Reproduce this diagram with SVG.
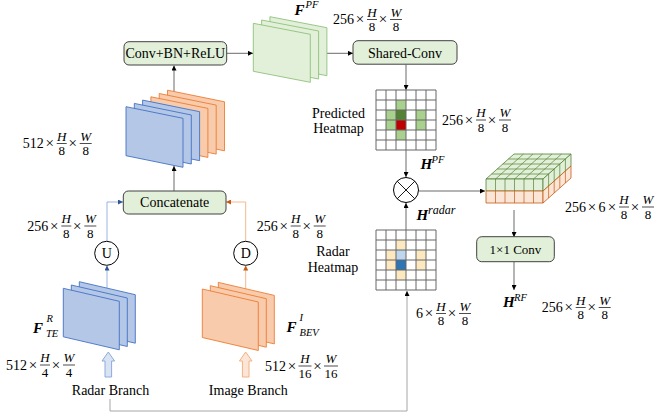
<svg xmlns="http://www.w3.org/2000/svg" width="657" height="420" viewBox="0 0 657 420">
<defs>
<style>
text{font-family:"Liberation Serif","Times New Roman","DejaVu Serif",serif}
.t{font-size:14px;fill:#000}
.tc{font-size:14px;fill:#000;text-anchor:middle}
.x{font-size:15px;fill:#000;text-anchor:middle}
.m{font-size:13px;font-style:italic;text-anchor:middle}
.d{font-size:13px;text-anchor:middle}
.bar{stroke:#000;stroke-width:0.7}
.bi{font-size:15px;font-weight:bold;font-style:italic}
.sc{font-size:10.5px;font-style:italic}
.box{fill:#e2f0d9;stroke:#404040;stroke-width:1}
.conn{fill:none;stroke:#595959;stroke-width:0.9}
.gsh{fill:#e2f0d9;stroke:#8fc27a;stroke-width:0.9}
.bsh{fill:#b4c7e7;stroke:#4472c4;stroke-width:0.9}
.osh{fill:#f8cbad;stroke:#ed7d31;stroke-width:0.9}
.grid{fill:none;stroke:#666;stroke-width:1}
.cg{fill:#e2f0d9;stroke:#548235;stroke-width:0.8}
.co{fill:#fbe5d6;stroke:#c55a11;stroke-width:0.8}
</style>
<marker id="ah" viewBox="0 0 10 10" markerWidth="5" markerHeight="5" refX="10" refY="5" orient="auto" markerUnits="userSpaceOnUse"><path d="M0,0 L10,5 L0,10 z" fill="#000"/></marker>
<marker id="ahb" viewBox="0 0 10 10" markerWidth="5" markerHeight="5" refX="10" refY="5" orient="auto" markerUnits="userSpaceOnUse"><path d="M0,0 L10,5 L0,10 z" fill="#2f5597"/></marker>
<marker id="aho" viewBox="0 0 10 10" markerWidth="5" markerHeight="5" refX="10" refY="5" orient="auto" markerUnits="userSpaceOnUse"><path d="M0,0 L10,5 L0,10 z" fill="#c55a11"/></marker>
<g id="lab256">
<text class="t" x="0" y="0">256</text><text class="x" x="27" y="0">×</text>
<text class="m" x="39" y="-7.5">H</text><line class="bar" x1="34" y1="-4.5" x2="44" y2="-4.5"/><text class="d" x="39" y="7">8</text>
<text class="x" x="50" y="0">×</text>
<text class="m" x="63" y="-7.5">W</text><line class="bar" x1="57" y1="-4.5" x2="69" y2="-4.5"/><text class="d" x="63" y="7">8</text>
</g>
</defs>

<!-- connectors -->
<g id="connectors">
<line class="conn" x1="226.7" y1="53.3" x2="253" y2="53.3" marker-end="url(#ah)"/>
<line class="conn" x1="327" y1="53.3" x2="353" y2="53.3" marker-end="url(#ah)"/>
<line class="conn" x1="406" y1="64.5" x2="406" y2="90" marker-end="url(#ah)"/>
<line class="conn" x1="406" y1="150" x2="406" y2="177" marker-end="url(#ah)"/>
<line class="conn" x1="406" y1="230" x2="406" y2="203" marker-end="url(#ah)"/>
<line class="conn" x1="419" y1="191" x2="485" y2="191" marker-end="url(#ah)"/>
<line class="conn" x1="514" y1="210" x2="514" y2="237" marker-end="url(#ah)"/>
<line class="conn" x1="514" y1="262" x2="514" y2="290" marker-end="url(#ah)"/>
<line class="conn" x1="174" y1="191" x2="174" y2="166" marker-end="url(#ah)"/>
<line class="conn" x1="174" y1="91.5" x2="174" y2="65.5" marker-end="url(#ah)"/>
<polyline fill="none" stroke="#8faadc" stroke-width="0.9" points="107,241 107,202 123,202" marker-end="url(#ahb)"/>
<line stroke="#8faadc" stroke-width="0.9" x1="107" y1="288" x2="107" y2="265.5" marker-end="url(#ahb)"/>
<polyline fill="none" stroke="#f4b183" stroke-width="0.9" points="245.7,241 245.7,202 226,202" marker-end="url(#aho)"/>
<line stroke="#f4b183" stroke-width="0.9" x1="245.7" y1="288.5" x2="245.7" y2="265.5" marker-end="url(#aho)"/>
<polyline fill="none" stroke="#a6a6a6" stroke-width="1" points="110,399 110,411 407,411 407,291" marker-end="url(#ah)"/>
</g>

<g id="conv-bn-relu">
<rect class="box" x="124" y="41.7" width="102.7" height="23.3" rx="5"/>
<text class="tc" x="175.3" y="58">Conv+BN+ReLU</text>
</g>

<g id="feat-pf">
<polygon class="gsh" points="269.9,16.7 326.9,27.7 326.9,75.7 269.9,64.7"/>
<polygon class="gsh" points="261.6,20 318.6,31 318.6,79 261.6,68"/>
<polygon class="gsh" points="253.3,23.3 310.3,34.3 310.3,82.3 253.3,71.3"/>
<text class="bi" x="294.5" y="14.5">F</text><text class="sc" x="305.5" y="8">PF</text>
</g>
<use href="#lab256" x="333" y="24"/>

<g id="shared-conv">
<rect class="box" x="353" y="40.7" width="104" height="23.5" rx="5"/>
<text class="tc" x="405" y="57.5">Shared-Conv</text>
</g>

<g id="predicted-heatmap">
<rect x="396" y="100" width="10" height="10" fill="#a9d18e"/>
<rect x="386" y="110" width="10" height="20" fill="#a9d18e"/>
<rect x="416" y="110" width="10" height="20" fill="#a9d18e"/>
<rect x="396" y="130" width="10" height="10" fill="#a9d18e"/>
<rect x="396" y="110" width="10" height="10" fill="#548235"/>
<rect x="396" y="120" width="10" height="10" fill="#c00000"/>
<path class="grid" d="M376,90H436M376,100H436M376,110H436M376,120H436M376,130H436M376,140H436M376,150H436M376,90V150M386,90V150M396,90V150M406,90V150M416,90V150M426,90V150M436,90V150"/>
<text class="tc" x="338.5" y="118">Predicted</text>
<text class="tc" x="338.5" y="133">Heatmap</text>
<text class="bi" x="420.5" y="168.5">H</text><text class="sc" x="431.5" y="162.5">PF</text>
</g>
<use href="#lab256" x="442" y="124.5"/>

<g id="multiply">
<circle cx="406" cy="190" r="12.5" fill="#fff" stroke="#000" stroke-width="1"/>
<path d="M397.2,181.2L414.8,198.8M414.8,181.2L397.2,198.8" stroke="#000" stroke-width="0.9"/>
</g>

<g id="radar-heatmap">
<rect x="396" y="240" width="10" height="10" fill="#fde9c0"/>
<rect x="386" y="250" width="10" height="20" fill="#fde9c0"/>
<rect x="416" y="250" width="10" height="20" fill="#fde9c0"/>
<rect x="396" y="270" width="10" height="10" fill="#fde9c0"/>
<rect x="396" y="250" width="10" height="10" fill="#bdd7ee"/>
<rect x="396" y="260" width="10" height="10" fill="#2e75b6"/>
<path class="grid" d="M376,230H436M376,240H436M376,250H436M376,260H436M376,270H436M376,280H436M376,290H436M376,230V290M386,230V290M396,230V290M406,230V290M416,230V290M426,230V290M436,230V290"/>
<text class="tc" x="333" y="256">Radar</text>
<text class="tc" x="333" y="272">Heatmap</text>
<text class="bi" x="416.5" y="220">H</text><text class="sc" x="428" y="213.5" style="font-size:12px">radar</text>
</g>
<g id="lab-radar">
<text class="t" x="416" y="318">6</text><text class="x" x="429" y="318">×</text>
<text class="m" x="441" y="310.5">H</text><line class="bar" x1="436" y1="313.5" x2="446" y2="313.5"/><text class="d" x="441" y="325">8</text>
<text class="x" x="452" y="318">×</text>
<text class="m" x="465" y="310.5">W</text><line class="bar" x1="459" y1="313.5" x2="471" y2="313.5"/><text class="d" x="465" y="325">8</text>
</g>

<g id="fused-cube">
<polygon class="cg" points="486,179 543,179 571,154 514,154"/>
<polygon class="cg" points="486,179 543,179 543,191 486,191"/>
<polygon class="co" points="486,191 543,191 543,203 486,203"/>
<polygon class="cg" points="543,179 571,154 571,166 543,191"/>
<polygon class="co" points="543,191 571,166 571,178 543,203"/>
<path fill="none" stroke="#548235" stroke-width="0.7" d="M495.5,179L523.5,154M505,179L533,154M514.5,179L542.5,154M524,179L552,154M533.5,179L561.5,154M491.6,174H548.6M497.2,169H554.2M502.8,164H559.8M508.4,159H565.4M495.5,179V191M505,179V191M514.5,179V191M524,179V191M533.5,179V191M548.6,174V186M554.2,169V181M559.8,164V176M565.4,159V171"/>
<path fill="none" stroke="#c55a11" stroke-width="0.7" d="M495.5,191V203M505,191V203M514.5,191V203M524,191V203M533.5,191V203M548.6,186V198M554.2,181V193M559.8,176V188M565.4,171V183"/>
</g>
<g id="lab-cube">
<text class="t" x="565" y="211.5">256</text><text class="x" x="592" y="211.5">×</text><text class="tc" x="602" y="211.5">6</text><text class="x" x="612" y="211.5">×</text>
<text class="m" x="624" y="204">H</text><line class="bar" x1="619" y1="207" x2="629" y2="207"/><text class="d" x="624" y="218.5">8</text>
<text class="x" x="635" y="211.5">×</text>
<text class="m" x="648" y="204">W</text><line class="bar" x1="642" y1="207" x2="654" y2="207"/><text class="d" x="648" y="218.5">8</text>
</g>

<g id="conv1x1">
<rect class="box" x="476.7" y="236.7" width="77.6" height="25" rx="5"/>
<text class="tc" x="515.5" y="254" style="font-size:13px">1×1 Conv</text>
</g>
<g id="h-rf">
<text class="bi" x="503" y="307">H</text><text class="sc" x="514" y="301">RF</text>
</g>
<use href="#lab256" x="541.7" y="312"/>

<g id="concat-feat">
<polygon class="osh" points="167.5,90.2 224.5,101.8 224.5,150.8 167.5,139.2"/>
<polygon class="osh" points="159.2,93.5 216.2,105.1 216.2,154.1 159.2,142.5"/>
<polygon class="osh" points="150.9,96.8 207.9,108.4 207.9,157.4 150.9,145.8"/>
<polygon class="bsh" points="142.6,100.1 199.6,111.7 199.6,160.7 142.6,149.1"/>
<polygon class="bsh" points="134.3,103.4 191.3,115 191.3,164 134.3,152.4"/>
<polygon class="bsh" points="126,106.7 183,118.3 183,167.3 126,155.7"/>
</g>
<g id="lab-concat">
<text class="t" x="22.7" y="148">512</text><text class="x" x="49.7" y="148">×</text>
<text class="m" x="61.7" y="140.5">H</text><line class="bar" x1="56.7" y1="143.5" x2="66.7" y2="143.5"/><text class="d" x="61.7" y="155">8</text>
<text class="x" x="72.7" y="148">×</text>
<text class="m" x="85.7" y="140.5">W</text><line class="bar" x1="79.7" y1="143.5" x2="91.7" y2="143.5"/><text class="d" x="85.7" y="155">8</text>
</g>

<g id="concatenate">
<rect class="box" x="123.3" y="191" width="102.7" height="23" rx="5"/>
<text class="tc" x="174.7" y="207">Concatenate</text>
</g>

<g id="upsample">
<circle cx="106.7" cy="253.3" r="12" fill="#fff" stroke="#000" stroke-width="1"/>
<text class="tc" x="106.7" y="258.3">U</text>
</g>
<use href="#lab256" x="27.3" y="230.5"/>
<g id="downsample">
<circle cx="245.7" cy="253.3" r="12" fill="#fff" stroke="#000" stroke-width="1"/>
<text class="tc" x="245.7" y="258.3">D</text>
</g>
<use href="#lab256" x="256.7" y="230.5"/>

<g id="radar-feat">
<polygon class="bsh" points="79.3,281.7 135.3,294.7 135.3,343.2 79.3,330.2"/>
<polygon class="bsh" points="71.3,285 127.3,298 127.3,346.5 71.3,333.5"/>
<polygon class="bsh" points="63.3,288.3 119.3,301.3 119.3,349.8 63.3,336.8"/>
<text class="bi" x="33" y="333">F</text><text class="sc" x="46.5" y="322">R</text><text class="sc" x="46" y="337">TE</text>
<path d="M108.3,352 L102,361 L105,361 L105,377 L111.6,377 L111.6,361 L114.6,361 Z" fill="#dae3f3" stroke="#8faadc" stroke-width="1"/>
<text class="tc" x="110.5" y="395">Radar Branch</text>
</g>
<g id="lab-radar-feat">
<text class="t" x="6" y="369.5">512</text><text class="x" x="33" y="369.5">×</text>
<text class="m" x="45" y="362">H</text><line class="bar" x1="40" y1="365" x2="50" y2="365"/><text class="d" x="45" y="376.5">4</text>
<text class="x" x="56" y="369.5">×</text>
<text class="m" x="69" y="362">W</text><line class="bar" x1="63" y1="365" x2="75" y2="365"/><text class="d" x="69" y="376.5">4</text>
</g>

<g id="image-feat">
<polygon class="osh" points="218.3,282.4 274.3,295.4 274.3,343.9 218.3,330.9"/>
<polygon class="osh" points="210.3,285.7 266.3,298.7 266.3,347.2 210.3,334.2"/>
<polygon class="osh" points="202.3,289 258.3,302 258.3,350.5 202.3,337.5"/>
<text class="bi" x="286.5" y="332">F</text><text class="sc" x="299.5" y="321">I</text><text class="sc" x="299.5" y="336">BEV</text>
<path d="M245.7,352 L239.4,361 L242.4,361 L242.4,377 L249,377 L249,361 L252,361 Z" fill="#fbe5d6" stroke="#f4b183" stroke-width="1"/>
<text class="tc" x="248.3" y="395">Image Branch</text>
</g>
<g id="lab-image-feat">
<text class="t" x="265" y="370.5">512</text><text class="x" x="292" y="370.5">×</text>
<text class="m" x="305" y="363">H</text><line class="bar" x1="298.5" y1="366" x2="311.5" y2="366"/><text class="d" x="305" y="377.5">16</text>
<text class="x" x="317.5" y="370.5">×</text>
<text class="m" x="331" y="363">W</text><line class="bar" x1="324" y1="366" x2="338" y2="366"/><text class="d" x="331" y="377.5">16</text>
</g>
</svg>
